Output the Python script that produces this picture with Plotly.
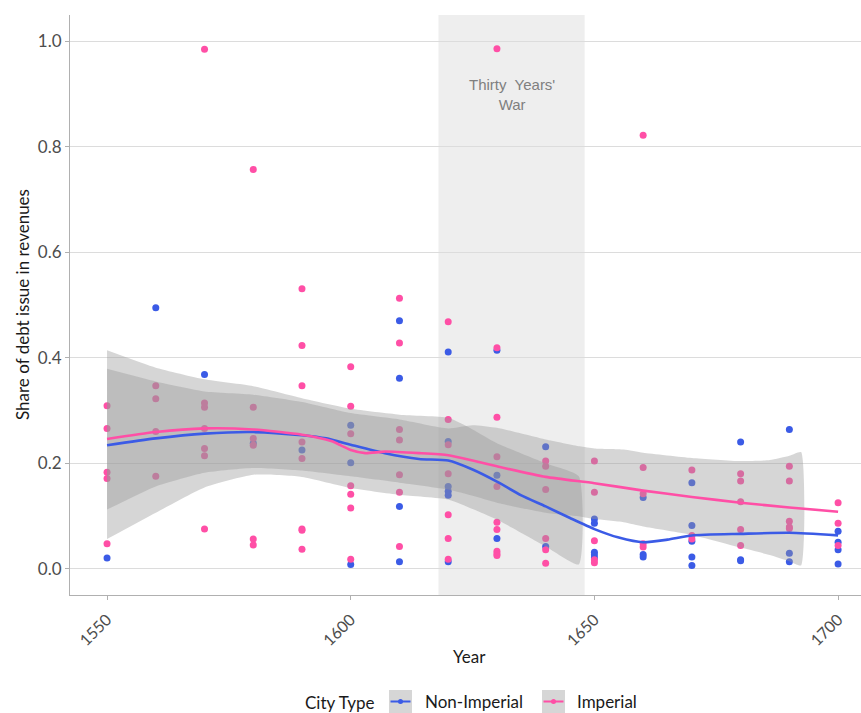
import plotly.graph_objects as go

# ---- observations: share of debt issue in revenues, by city type ----
ni_year = [1550,
           1560,
           1570,
           1580,
           1590,
           1600, 1600, 1600,
           1610, 1610, 1610, 1610,
           1620, 1620, 1620, 1620, 1620, 1620,
           1630, 1630, 1630,
           1640, 1640,
           1650, 1650, 1650, 1650, 1650,
           1660, 1660, 1660,
           1670, 1670, 1670, 1670, 1670,
           1680, 1680, 1680,
           1690, 1690, 1690,
           1700, 1700, 1700, 1700]
ni_share = [0.020,
            0.495,
            0.368,
            0.238,
            0.225,
            0.272, 0.201, 0.008,
            0.470, 0.361, 0.118, 0.013,
            0.411, 0.241, 0.156, 0.147, 0.139, 0.013,
            0.414, 0.177, 0.057,
            0.231, 0.042,
            0.094, 0.086, 0.031, 0.026, 0.020,
            0.135, 0.027, 0.022,
            0.163, 0.082, 0.052, 0.022, 0.006,
            0.240, 0.017, 0.015,
            0.264, 0.029, 0.013,
            0.071, 0.050, 0.036, 0.009]

imp_year = [1550, 1550, 1550, 1550, 1550,
            1560, 1560, 1560, 1560,
            1570, 1570, 1570, 1570, 1570, 1570, 1570,
            1580, 1580, 1580, 1580, 1580, 1580,
            1590, 1590, 1590, 1590, 1590, 1590, 1590, 1590,
            1600, 1600, 1600, 1600, 1600, 1600, 1600,
            1610, 1610, 1610, 1610, 1610, 1610, 1610,
            1620, 1620, 1620, 1620, 1620, 1620, 1620,
            1630, 1630, 1630, 1630, 1630, 1630, 1630, 1630, 1630, 1630,
            1640, 1640, 1640, 1640, 1640, 1640,
            1650, 1650, 1650, 1650, 1650,
            1660, 1660, 1660, 1660, 1660,
            1670, 1670, 1670,
            1680, 1680, 1680, 1680, 1680,
            1690, 1690, 1690, 1690, 1690,
            1700, 1700, 1700]
imp_share = [0.309, 0.266, 0.183, 0.171, 0.047,
             0.347, 0.322, 0.260, 0.175,
             0.985, 0.314, 0.306, 0.266, 0.228, 0.214, 0.075,
             0.757, 0.306, 0.247, 0.234, 0.056, 0.045,
             0.531, 0.423, 0.347, 0.240, 0.209, 0.075, 0.073, 0.037,
             0.383, 0.308, 0.256, 0.157, 0.141, 0.115, 0.018,
             0.513, 0.428, 0.264, 0.244, 0.178, 0.145, 0.042,
             0.468, 0.283, 0.235, 0.180, 0.102, 0.057, 0.018,
             0.986, 0.419, 0.287, 0.212, 0.156, 0.088, 0.074, 0.033, 0.028, 0.025,
             0.204, 0.194, 0.150, 0.057, 0.036, 0.010,
             0.204, 0.145, 0.053, 0.017, 0.011,
             0.822, 0.192, 0.142, 0.047, 0.041,
             0.187, 0.063, 0.056,
             0.180, 0.166, 0.127, 0.074, 0.044,
             0.194, 0.166, 0.090, 0.079, 0.076,
             0.125, 0.086, 0.044]

# ---- loess fits ----
ni_fit_year = [1550, 1560, 1570, 1580, 1590, 1595, 1600, 1607, 1614, 1620, 1625,
               1630, 1635, 1640, 1645, 1650, 1655, 1660, 1665, 1670, 1680, 1690, 1700]
ni_fit = [0.234, 0.247, 0.256, 0.259, 0.253, 0.247, 0.235, 0.219, 0.208, 0.205, 0.188,
          0.165, 0.139, 0.118, 0.096, 0.075, 0.059, 0.050, 0.055, 0.063, 0.066, 0.068, 0.063]

imp_fit_year = [1550, 1560, 1570, 1580, 1590, 1596, 1600, 1603, 1607, 1614, 1620,
                1625, 1630, 1640, 1650, 1660, 1670, 1680, 1690, 1700]
imp_fit = [0.246, 0.259, 0.266, 0.264, 0.254, 0.242, 0.225, 0.219, 0.222, 0.219, 0.215,
           0.205, 0.194, 0.174, 0.162, 0.148, 0.136, 0.125, 0.116, 0.108]

# ---- confidence bands (cut where they leave the 0-1 scale) ----
ni_band_year = [1550, 1560, 1570, 1580, 1590, 1600, 1610, 1620, 1625, 1630, 1640, 1646.8]
ni_band_hi = [0.414, 0.381, 0.359, 0.346, 0.323, 0.303, 0.292, 0.286, 0.264, 0.238, 0.200, 0.175]
ni_band_lo = [0.056, 0.106, 0.154, 0.178, 0.174, 0.153, 0.140, 0.131, 0.113, 0.093, 0.042, 0.008]

imp_band_year = [1550, 1560, 1570, 1580, 1590, 1600, 1610, 1620, 1625, 1630, 1640, 1647,
                 1650, 1656, 1660, 1670, 1680, 1686, 1690, 1692.4]
imp_band_hi = [0.379, 0.355, 0.336, 0.330, 0.316, 0.295, 0.283, 0.266, 0.272, 0.267, 0.245, 0.232,
               0.228, 0.226, 0.220, 0.210, 0.204, 0.206, 0.214, 0.221]
imp_band_lo = [0.112, 0.156, 0.182, 0.191, 0.186, 0.175, 0.163, 0.150, 0.138, 0.125, 0.106, 0.099,
               0.094, 0.088, 0.080, 0.064, 0.040, 0.026, 0.014, 0.006]

war_start, war_end = 1618, 1648
y_ticks = [0.0, 0.2, 0.4, 0.6, 0.8, 1.0]
x_ticks = [1550, 1600, 1650, 1700]

BLUE = "#3B5BE6"
PINK = "#FF4FA6"
BAND = "rgba(153,153,153,0.4)"
FONT = "Lato"

# figure geometry (pixels) used for placing the legend and titles
W, H = 861, 713
L, R, T, B = 70, 861, 15, 595


def px_x(px):
    return (px - L) / (R - L)


def px_y(py):
    return (B - py) / (B - T)


fig = go.Figure()

# points
fig.add_trace(go.Scatter(x=ni_year, y=ni_share, mode="markers",
                         marker=dict(color=BLUE, size=7, line=dict(width=0)),
                         showlegend=False, hoverinfo="skip"))
fig.add_trace(go.Scatter(x=imp_year, y=imp_share, mode="markers",
                         marker=dict(color=PINK, size=7, line=dict(width=0)),
                         showlegend=False, hoverinfo="skip"))

# bands drawn over the points
for yr, lo, hi in [(ni_band_year, ni_band_lo, ni_band_hi),
                   (imp_band_year, imp_band_lo, imp_band_hi)]:
    fig.add_trace(go.Scatter(x=list(yr) + list(yr)[::-1],
                             y=list(hi) + list(lo)[::-1],
                             mode="lines", fill="toself", fillcolor=BAND,
                             line=dict(width=0, shape="spline", smoothing=0.5),
                             showlegend=False, hoverinfo="skip"))

# smooth lines
fig.add_trace(go.Scatter(x=ni_fit_year, y=ni_fit, mode="lines",
                         line=dict(color=BLUE, width=2.6, shape="spline", smoothing=0.6),
                         showlegend=False, hoverinfo="skip"))
fig.add_trace(go.Scatter(x=imp_fit_year, y=imp_fit, mode="lines",
                         line=dict(color=PINK, width=2.6, shape="spline", smoothing=0.6),
                         showlegend=False, hoverinfo="skip"))

shapes = [
    dict(type="rect", xref="x", yref="paper", x0=war_start, x1=war_end, y0=0, y1=1,
         fillcolor="rgba(0,0,0,0.065)", line=dict(width=0), layer="between"),
]


def label(px, py, text, **kw):
    d = dict(x=px_x(px), y=px_y(py), xref="paper", yref="paper", showarrow=False,
             xanchor="center", yanchor="middle", text=text,
             font=dict(family=FONT, size=17, color="#1a1a1a"))
    d.update(kw)
    return d


annotations = [
    dict(x=1633, y=0.90, xref="x", yref="y", showarrow=False,
         xanchor="center", yanchor="middle",
         text="Thirty&nbsp; Years'<br>War", align="center",
         font=dict(family="Liberation Sans", size=15, color="#7f7f7f")),
    label(22, 305, "Share of debt issue in revenues", textangle=-90),
    label(470, 656, "Year"),
    label(340, 702, "City Type"),
]

# legend keys: grey square with a coloured line and dot
legend_items = [("Non-Imperial", BLUE, 400.5, 423), ("Imperial", PINK, 553.5, 575)]
ky = 701.5
for name, col, cx, tx in legend_items:
    shapes.append(dict(type="rect", xref="paper", yref="paper",
                       x0=px_x(cx - 11.5), x1=px_x(cx + 11.5),
                       y0=px_y(ky + 11.5), y1=px_y(ky - 11.5),
                       fillcolor="#d6d6d6", line=dict(width=0)))
    shapes.append(dict(type="line", xref="paper", yref="paper",
                       x0=px_x(cx - 10), x1=px_x(cx + 10), y0=px_y(ky), y1=px_y(ky),
                       line=dict(color=col, width=2)))
    shapes.append(dict(type="circle", xref="paper", yref="paper",
                       x0=px_x(cx - 2.5), x1=px_x(cx + 2.5),
                       y0=px_y(ky + 2.5), y1=px_y(ky - 2.5),
                       fillcolor=col, line=dict(width=0)))
    annotations.append(label(tx, ky, name, xanchor="left"))

fig.update_layout(
    width=W, height=H,
    margin=dict(l=L, r=W - R, t=T, b=H - B, pad=0),
    paper_bgcolor="white", plot_bgcolor="white",
    showlegend=False,
    shapes=shapes, annotations=annotations,
    xaxis=dict(range=[1542.4, 1704.7], tickvals=x_ticks, ticktext=[str(v) for v in x_ticks],
               tickangle=-45, ticks="outside", ticklen=4, tickcolor="#b0b0b0",
               ticklabelstandoff=4,
               showgrid=False, zeroline=False, showline=True, linecolor="#b0b0b0",
               linewidth=1, tickfont=dict(family=FONT, size=16, color="#4d4d4d")),
    yaxis=dict(range=[-0.05, 1.05], tickvals=y_ticks, ticktext=[f"{v:.1f}" for v in y_ticks],
               ticks="outside", ticklen=4, tickcolor="#b0b0b0",
               showgrid=True, gridcolor="#dcdcdc", gridwidth=1, zeroline=False,
               showline=True, linecolor="#b0b0b0", linewidth=1,
               tickfont=dict(family=FONT, size=17, color="#4d4d4d")),
)

fig.write_html("out.html")
